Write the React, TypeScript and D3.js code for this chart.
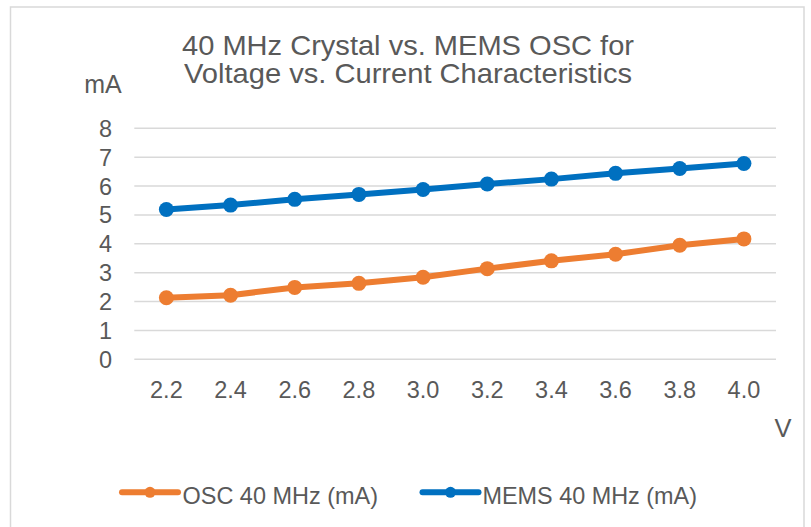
import React from "react";
import * as d3 from "d3";

const categories = ["2.2", "2.4", "2.6", "2.8", "3.0", "3.2", "3.4", "3.6", "3.8", "4.0"];
const oscValues = [2.13, 2.22, 2.49, 2.63, 2.84, 3.14, 3.41, 3.64, 3.95, 4.17];
const memsValues = [5.19, 5.34, 5.54, 5.71, 5.88, 6.07, 6.24, 6.44, 6.61, 6.78];
const yTicks = [0, 1, 2, 3, 4, 5, 6, 7, 8];
const titleLines = ["40 MHz Crystal vs. MEMS OSC for", "Voltage vs. Current Characteristics"];
const seriesNames = ["OSC 40 MHz (mA)", "MEMS 40 MHz (mA)"];

const W = 811;
const H = 527;
const FONT = "'Liberation Sans', Arial, sans-serif";
const TEXT = "#595959";
const GRID = "#d9d9d9";
const ORANGE = "#ED7D31";
const BLUE = "#0070C0";

export default function App() {
  const left = 134.3;
  const right = 776;
  const top = 128.3;
  const bottom = 359.3;

  const x = d3.scaleBand<string>().domain(categories).range([left, right]).padding(0);
  const y = d3.scaleLinear().domain([0, 8]).range([bottom, top]);
  const cx = (c: string) => (x(c) as number) + x.bandwidth() / 2;

  const line = d3
    .line<number>()
    .x((_, i) => cx(categories[i]))
    .y((d) => y(d));

  const series = [
    { name: seriesNames[0], values: oscValues, color: ORANGE, lx: 122, tx: 182.5, tl: 195.5 },
    { name: seriesNames[1], values: memsValues, color: BLUE, lx: 422.5, tx: 482.5, tl: 214.5 },
  ];

  return (
    <svg
      width={W}
      height={H}
      style={{ position: "absolute", left: 0, top: 0, background: "#fff" }}
      fontFamily={FONT}
    >
      <rect x={0} y={0} width={W} height={H} fill="#fff" />
      <rect x={10.5} y={7} width={793.5} height={H + 20} fill="#fff" stroke={GRID} strokeWidth={1.5} />

      {titleLines.map((t, i) => (
        <text
          key={t}
          x={408}
          y={54.5 + i * 28.5}
          textAnchor="middle"
          fontSize={27.5}
          fill={TEXT}
          textLength={i === 0 ? 452 : 448}
          lengthAdjust="spacingAndGlyphs"
        >
          {t}
        </text>
      ))}

      <text x={103} y={93} textAnchor="middle" fontSize={25} fill={TEXT}>
        mA
      </text>

      {yTicks.map((t) => (
        <g key={t}>
          <line x1={left} x2={right} y1={y(t)} y2={y(t)} stroke={GRID} strokeWidth={1.5} />
          <text x={112} y={y(t) + 8.5} textAnchor="end" fontSize={23.5} fill={TEXT}>
            {t}
          </text>
        </g>
      ))}

      {categories.map((c) => (
        <text key={c} x={cx(c)} y={397.5} textAnchor="middle" fontSize={23.5} fill={TEXT}>
          {c}
        </text>
      ))}

      <text x={783} y={436.5} textAnchor="middle" fontSize={25.5} fill={TEXT}>
        V
      </text>

      {series.map((s) => (
        <g key={s.name}>
          <path d={line(s.values) || ""} fill="none" stroke={s.color} strokeWidth={6} strokeLinejoin="round" />
          {s.values.map((v, i) => (
            <circle key={i} cx={cx(categories[i])} cy={y(v)} r={7.5} fill={s.color} />
          ))}
        </g>
      ))}

      {series.map((s) => (
        <g key={s.name + "-legend"}>
          <line x1={s.lx} x2={s.lx + 56} y1={492.3} y2={492.3} stroke={s.color} strokeWidth={6} strokeLinecap="round" />
          <circle cx={s.lx + 28} cy={492.3} r={5.5} fill={s.color} />
          <text
            x={s.tx}
            y={503.5}
            fontSize={24}
            fill={TEXT}
            textLength={s.tl}
            lengthAdjust="spacingAndGlyphs"
          >
            {s.name}
          </text>
        </g>
      ))}
    </svg>
  );
}
